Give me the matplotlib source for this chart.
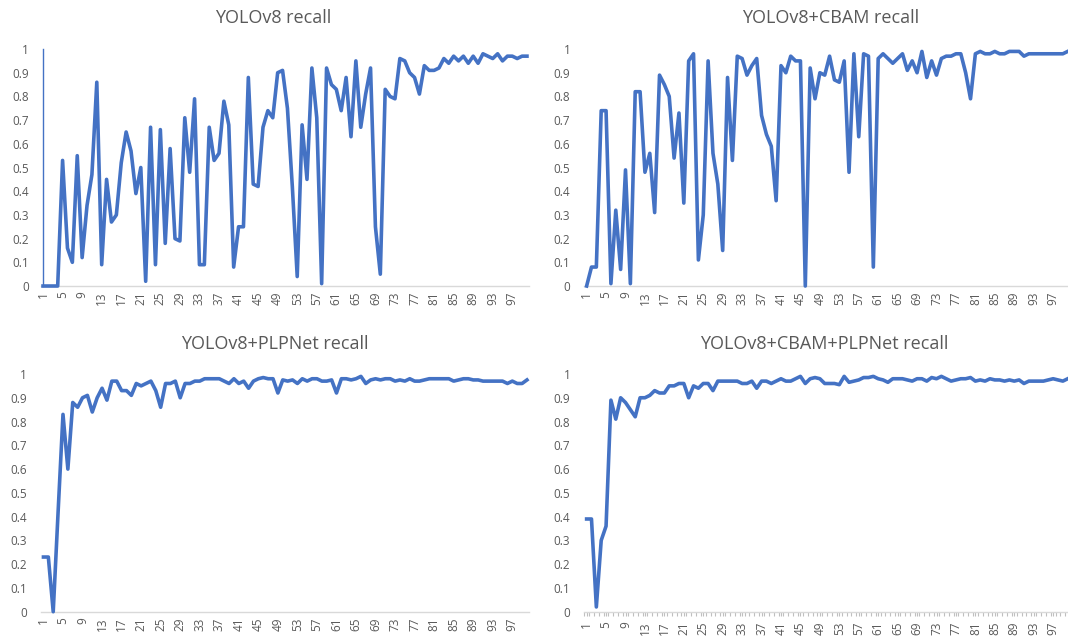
import numpy as np
import matplotlib
matplotlib.use("Agg")
import matplotlib.pyplot as plt
from matplotlib.ticker import FixedLocator

plt.rcParams['font.family'] = ['Open Sans', 'DejaVu Sans']

# epoch index 1..100
epochs = np.arange(1, 101)
tick_epochs = list(range(1, 101, 4))
y_ticks = [0, 0.1, 0.2, 0.3, 0.4, 0.5, 0.6, 0.7, 0.8, 0.9, 1]

yolov8 = [
    0, 0, 0, 0, 0.53, 0.16, 0.10, 0.55, 0.12, 0.34,
    0.47, 0.86, 0.09, 0.45, 0.27, 0.30, 0.52, 0.65, 0.57, 0.39,
    0.50, 0.02, 0.67, 0.09, 0.66, 0.18, 0.58, 0.20, 0.19, 0.71,
    0.48, 0.79, 0.09, 0.09, 0.67, 0.53, 0.56, 0.78, 0.68, 0.08,
    0.25, 0.25, 0.88, 0.43, 0.42, 0.67, 0.74, 0.71, 0.90, 0.91,
    0.75, 0.42, 0.04, 0.68, 0.45, 0.92, 0.71, 0.01, 0.92, 0.85,
    0.83, 0.74, 0.88, 0.63, 0.95, 0.67, 0.81, 0.92, 0.25, 0.05,
    0.83, 0.80, 0.79, 0.96, 0.95, 0.90, 0.88, 0.81, 0.93, 0.91,
    0.91, 0.92, 0.96, 0.94, 0.97, 0.95, 0.97, 0.94, 0.97, 0.94,
    0.98, 0.97, 0.96, 0.98, 0.95, 0.97, 0.97, 0.96, 0.97, 0.97,
]

yolov8_cbam = [
    0, 0.08, 0.08, 0.74, 0.74, 0.01, 0.32, 0.07, 0.49, 0.01,
    0.82, 0.82, 0.48, 0.56, 0.31, 0.89, 0.85, 0.80, 0.54, 0.73,
    0.35, 0.95, 0.98, 0.11, 0.30, 0.95, 0.56, 0.43, 0.15, 0.88,
    0.53, 0.97, 0.96, 0.89, 0.93, 0.96, 0.72, 0.64, 0.59, 0.36,
    0.93, 0.90, 0.97, 0.95, 0.95, 0.00, 0.92, 0.79, 0.90, 0.89,
    0.97, 0.87, 0.86, 0.95, 0.48, 0.98, 0.63, 0.98, 0.97, 0.08,
    0.96, 0.98, 0.96, 0.94, 0.96, 0.98, 0.91, 0.95, 0.90, 0.99,
    0.88, 0.95, 0.89, 0.96, 0.97, 0.97, 0.98, 0.98, 0.90, 0.79,
    0.98, 0.99, 0.98, 0.98, 0.99, 0.98, 0.98, 0.99, 0.99, 0.99,
    0.97, 0.98, 0.98, 0.98, 0.98, 0.98, 0.98, 0.98, 0.98, 0.99,
]

yolov8_plpnet = [
    0.23, 0.23, 0.00, 0.42, 0.83, 0.60, 0.88, 0.86, 0.90, 0.91,
    0.84, 0.90, 0.94, 0.89, 0.97, 0.97, 0.93, 0.93, 0.91, 0.96,
    0.95, 0.96, 0.97, 0.93, 0.86, 0.96, 0.96, 0.97, 0.90, 0.96,
    0.96, 0.97, 0.97, 0.98, 0.98, 0.98, 0.98, 0.97, 0.96, 0.98,
    0.96, 0.97, 0.94, 0.97, 0.98, 0.985, 0.98, 0.98, 0.92, 0.975,
    0.97, 0.975, 0.96, 0.98, 0.97, 0.98, 0.98, 0.97, 0.97, 0.975,
    0.92, 0.98, 0.98, 0.975, 0.98, 0.99, 0.96, 0.975, 0.98, 0.975,
    0.98, 0.98, 0.97, 0.975, 0.97, 0.98, 0.97, 0.97, 0.975, 0.98,
    0.98, 0.98, 0.98, 0.98, 0.97, 0.975, 0.98, 0.98, 0.975, 0.975,
    0.97, 0.97, 0.97, 0.97, 0.97, 0.96, 0.97, 0.96, 0.96, 0.975,
]

yolov8_cbam_plpnet = [
    0.39, 0.39, 0.02, 0.30, 0.36, 0.89, 0.81, 0.90, 0.88, 0.85,
    0.82, 0.90, 0.90, 0.91, 0.93, 0.92, 0.92, 0.95, 0.95, 0.96,
    0.96, 0.90, 0.95, 0.94, 0.96, 0.96, 0.93, 0.97, 0.97, 0.97,
    0.97, 0.97, 0.96, 0.96, 0.97, 0.94, 0.97, 0.97, 0.96, 0.97,
    0.98, 0.97, 0.97, 0.98, 0.99, 0.96, 0.98, 0.985, 0.98, 0.96,
    0.96, 0.96, 0.955, 0.99, 0.965, 0.97, 0.975, 0.985, 0.985, 0.99,
    0.98, 0.975, 0.965, 0.98, 0.98, 0.98, 0.975, 0.97, 0.98, 0.98,
    0.97, 0.985, 0.98, 0.99, 0.98, 0.97, 0.975, 0.98, 0.98, 0.985,
    0.97, 0.975, 0.97, 0.98, 0.975, 0.975, 0.97, 0.975, 0.97, 0.975,
    0.96, 0.97, 0.97, 0.97, 0.97, 0.975, 0.98, 0.975, 0.97, 0.98,
]

titles = ["YOLOv8 recall", "YOLOv8+CBAM recall",
          "YOLOv8+PLPNet recall", "YOLOv8+CBAM+PLPNet recall"]
series = [yolov8, yolov8_cbam, yolov8_plpnet, yolov8_cbam_plpnet]

line_color = '#4472C4'
text_color = '#595959'

fig = plt.figure(figsize=(10.68, 6.37), dpi=100)

# [left, bottom, width, height] in figure fractions
boxes = [
    [0.0380, 0.551, 0.4577, 0.372],
    [0.5470, 0.551, 0.4550, 0.372],
    [0.0384, 0.0397, 0.4573, 0.3732],
    [0.5470, 0.0397, 0.4550, 0.3732],
]
title_pos = [(0.256, 0.972), (0.778, 0.972), (0.257, 0.460), (0.772, 0.460)]

for k, (box, vals, title) in enumerate(zip(boxes, series, titles)):
    ax = fig.add_axes(box)
    ax.plot(epochs, vals, color=line_color, lw=2.6, clip_on=False,
            solid_joinstyle='round', zorder=3)
    ax.set_xlim(0.5, 100.5)
    ax.set_ylim(0, 1)
    ax.set_yticks(y_ticks)
    ax.set_yticklabels(['%g' % v for v in y_ticks])
    ax.set_xticks(tick_epochs)
    ax.set_xticklabels([str(t) for t in tick_epochs], rotation=90)
    ax.tick_params(axis='both', colors=text_color, labelsize=8.5, length=0, pad=4)
    ax.tick_params(axis='y', pad=10)
    for side in ['top', 'right', 'left']:
        ax.spines[side].set_visible(False)
    ax.spines['bottom'].set_color('#D9D9D9')
    ax.spines['bottom'].set_linewidth(1)
    if k == 0:
        # thin vertical axis line at the first category
        ax.spines['left'].set_visible(True)
        ax.spines['left'].set_position(('data', 1))
        ax.spines['left'].set_color(line_color)
        ax.spines['left'].set_linewidth(1)
    if k == 3:
        ax.xaxis.set_minor_locator(FixedLocator(np.arange(0.5, 101, 1)))
        ax.tick_params(axis='x', which='both', length=3, color='#BFBFBF', width=0.8)
    fig.text(title_pos[k][0], title_pos[k][1], title, ha='center', va='center',
             fontsize=13, color=text_color)

fig.savefig('out.png', dpi=100, facecolor='white')
